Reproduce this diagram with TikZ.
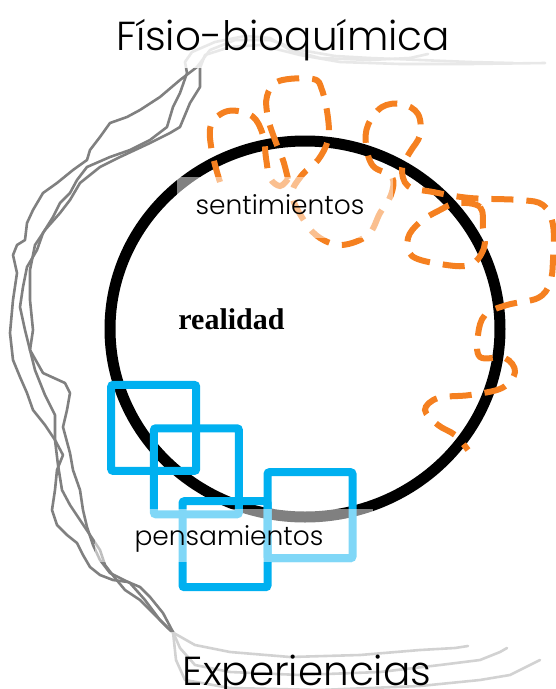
\documentclass[tikz,border=0pt]{standalone}
\usepackage{fontspec}
\usetikzlibrary{shapes.geometric}
\newfontfamily\gothic{Poppins}[UprightFont={* Light}]
\newfontfamily\realserif{Liberation Serif}
\definecolor{orng}{RGB}{245,128,32}
\definecolor{skyb}{RGB}{0,176,240}
\definecolor{strandgray}{RGB}{128,128,128}
\begin{document}
\begin{tikzpicture}[x=1pt,y=-1pt,
  strand/.style={draw=strandgray, line width=2.6pt, line join=round, line cap=round},
  orangedash/.style={draw=orng, line width=6pt, dash pattern=on 22pt off 13pt},
  sq/.style={draw=skyb, line width=8pt, rounded corners=2pt, inner sep=0pt, minimum width=85pt, minimum height=86pt},
  ring/.style={draw=black, line width=11pt, ellipse, inner sep=0pt, minimum width=390pt, minimum height=376pt},
  veil/.style={fill=white},
  bigtxt/.style={font=\gothic\fontsize{40.5}{40.5}\selectfont, anchor=base, inner sep=0pt},
  smalltxt/.style={font=\gothic\fontsize{26.5}{26.5}\selectfont, anchor=base, inner sep=0pt},
  realtxt/.style={font=\realserif\bfseries\fontsize{30}{30}\selectfont, anchor=base, inner sep=0pt}
]
\useasboundingbox (0,0) rectangle (555,689);

% grey strands
\draw[strand] (513,63) -- (470,62) -- (420,60) -- (370,58) -- (335,56) -- (300,50) -- (270,40) -- (235,40) -- (210,50) -- (197,67) -- (180,80) -- (160,97) -- (140,110) -- (127,117) -- (110,123) -- (100,137) -- (90,150) -- (87,160) -- (73,170) -- (57,183) -- (43,193) -- (33,210) -- (27,223) -- (25,240) -- (17,245) -- (13,255) -- (17,273) -- (13,300) -- (10,333) -- (13,360) -- (20,377) -- (27,393) -- (33,410) -- (45,425) -- (55,440) -- (63,455) -- (57,470) -- (55,490) -- (52,510) -- (57,525) -- (67,535) -- (77,543) -- (83,555) -- (90,567) -- (100,575) -- (113,580) -- (128,582) -- (140,587) -- (150,597) -- (163,613) -- (173,632) -- (180,648) -- (195,665) -- (230,672) -- (300,675) -- (380,672) -- (440,665) -- (480,660) -- (500,652) -- (507,648);
\draw[strand] (468,646) -- (455,648) -- (420,650) -- (360,655) -- (290,657) -- (230,652) -- (195,645) -- (172,632) -- (160,620) -- (145,600) -- (130,583) -- (110,573) -- (100,560) -- (93,545) -- (87,527) -- (83,510) -- (80,490) -- (73,470) -- (70,453) -- (63,427) -- (67,410) -- (70,393) -- (65,383) -- (43,373) -- (30,350) -- (25,330) -- (20,307) -- (23,287) -- (27,267) -- (37,250) -- (43,233) -- (53,217) -- (60,203) -- (70,193) -- (77,180) -- (87,167) -- (110,157) -- (130,150) -- (150,140) -- (167,127) -- (173,107) -- (180,93) -- (187,73) -- (185,62) -- (192,52) -- (215,42) -- (245,36) -- (270,38) -- (290,50) -- (320,58) -- (370,60) -- (410,58) -- (428,54);
\draw[strand] (545,63) -- (470,64) -- (400,64) -- (340,62) -- (300,55) -- (260,45) -- (230,47) -- (205,55) -- (200,68) -- (200,87) -- (190,103) -- (180,127) -- (170,133) -- (150,143) -- (120,157) -- (100,167) -- (80,183) -- (70,200) -- (60,213) -- (45,230) -- (35,245) -- (30,270) -- (30,300) -- (33,330) -- (30,350) -- (35,370) -- (45,395) -- (55,415) -- (55,440) -- (58,465) -- (62,490) -- (70,505) -- (80,520) -- (90,535) -- (100,550) -- (105,565) -- (115,578) -- (125,590) -- (140,600) -- (155,615) -- (168,628) -- (173,632) -- (176,660) -- (185,680) -- (230,688) -- (320,690) -- (420,686) -- (480,680) -- (510,675) -- (540,660);

% the ring
\node[ring] (realidad-ring) at (305,329) {};

% orange dashed cloud chain
\draw[orangedash] plot[smooth, tension=0.6] coordinates {(220,182) (212,152) (211,125) (228,111) (252,116) (263,135) (266,158) (270,178) (280,186) (288,179)};
\draw[orangedash] plot[smooth, tension=0.6] coordinates {(288,179) (283,160) (275,140) (268,118) (267,96) (279,81) (313,79) (322,90) (328,118) (328,140) (318,160) (302,175) (292,195) (305,222) (320,238) (342,245) (368,235) (380,213) (391,195) (392,177) (373,166) (366,145) (368,125) (382,107) (402,104) (418,114) (420,135) (410,152) (402,168) (408,186) (433,192) (470,198) (520,200) (543,205) (553,225) (553,260) (550,283) (538,298) (507,305) (485,315) (478,335) (480,357) (505,358) (515,372) (502,388) (470,395) (438,398) (425,410) (438,425) (455,435) (468,450)};
\draw[orangedash] plot[smooth cycle, tension=0.6] coordinates {(457,203) (480,207) (483,228) (484,248) (470,265) (440,264) (412,256) (408,238) (420,222) (440,210)};

% blue squares
\node[sq] (sq1) at (153.7,427.9) {};
\node[sq] (sq2) at (196.4,471.3) {};
\node[sq] (sq3) at (225,544.2) {};
\node[sq] (sq4) at (310,515.2) {};

% veils and texts
\fill[veil, opacity=0.5] (177,177) rectangle (393,238);
\node[smalltxt] (sent) at (280,214) {sentimientos};
\fill[veil, opacity=0.5] (95,509) rectangle (373,562);
\node[smalltxt] (pens) at (229,545) {pensamientos};
\node[realtxt] (real) at (231.5,329) {realidad};
\fill[veil, opacity=0.82] (0,0) rectangle (555,68);
\node[bigtxt] (fisio) at (283,50) {Físio-bioquímica};
\fill[veil, opacity=0.65] (0,632) rectangle (555,689);
\node[bigtxt] (exper) at (307,685) {Experiencias};
\end{tikzpicture}
\end{document}
